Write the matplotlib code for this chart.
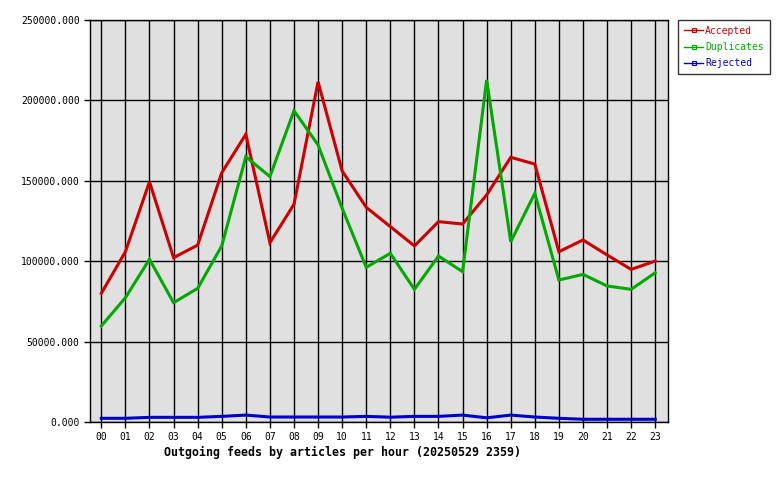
import matplotlib
matplotlib.use("Agg")
import matplotlib.pyplot as plt
from matplotlib.lines import Line2D

# Hourly values
hours = ["00", "01", "02", "03", "04", "05", "06", "07", "08", "09", "10", "11",
         "12", "13", "14", "15", "16", "17", "18", "19", "20", "21", "22", "23"]
accepted = [80000, 105900, 149400, 102200, 110000, 155000, 178900, 111500,
            135400, 211600, 156100, 133500, 121500, 109500, 124600, 123100,
            141200, 164600, 160400, 105900, 113200, 103900, 94900, 100100]
duplicates = [59700, 77300, 101200, 74200, 83100, 109500, 165000, 152600,
              193600, 172300, 132900, 96200, 104900, 82500, 103200, 93500,
              212700, 112100, 142200, 88300, 91800, 84600, 82500, 92800]
rejected = [2300, 2300, 2900, 2900, 2900, 3500, 4300, 3100, 3100, 3100, 3100,
            3500, 3000, 3500, 3500, 4300, 2600, 4300, 3100, 2300, 1700, 1700,
            1700, 1700]
series_names = ["Accepted", "Duplicates", "Rejected"]
series_colors = ["#cc0000", "#00aa00", "#0000cc"]
y_ticks = [0, 50000, 100000, 150000, 200000, 250000]

plt.rcParams["font.family"] = "DejaVu Sans Mono"

fig = plt.figure(figsize=(7.8, 4.8), dpi=100)
ax = fig.add_axes([90 / 780, 58 / 480, 578 / 780, 402 / 480])
ax.set_facecolor("#e0e0e0")

x = list(range(len(hours)))
for vals, col in zip([accepted, duplicates, rejected], series_colors):
    ax.plot(x, vals, color=col, linewidth=2.2, solid_joinstyle="miter", zorder=3)

ax.set_xlim(-0.47, 23.53)
ax.set_ylim(0, 250000)
ax.set_xticks(x)
ax.set_xticklabels(hours)
ax.set_yticks(y_ticks)
ax.set_yticklabels(["%.3f" % v for v in y_ticks])
ax.grid(True, color="black", linewidth=1, zorder=1)
ax.set_axisbelow(True)
ax.tick_params(axis="both", labelsize=7, length=4, width=1, color="black")
ax.tick_params(axis="x", pad=3)
for s in ax.spines.values():
    s.set_linewidth(1)

fig.text(343 / 780, 1 - 452 / 480, "Outgoing feeds by articles per hour (20250529 2359)",
         ha="center", va="center", fontsize=8.4, fontweight="bold")

handles = [Line2D([0], [0], color=c, linewidth=1, marker="s", markersize=3,
                  markerfacecolor="none", markeredgewidth=0.8)
           for c in series_colors]
leg = fig.legend(handles, series_names, loc="upper left",
                 bbox_to_anchor=(678 / 780, 1 - 20 / 480), fontsize=7,
                 frameon=True, fancybox=False, edgecolor="black",
                 handlelength=2.0, handletextpad=0.2, labelspacing=0.65,
                 borderpad=0.6, numpoints=1, borderaxespad=0)
leg.get_frame().set_linewidth(1)
for t, c in zip(leg.get_texts(), series_colors):
    t.set_color(c)

fig.savefig("out.png", dpi=100)
